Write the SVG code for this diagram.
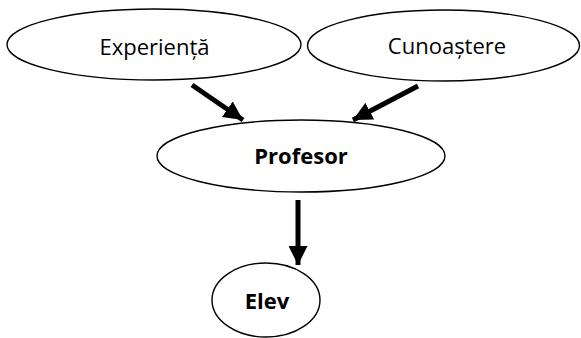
<svg xmlns="http://www.w3.org/2000/svg" width="581" height="338" viewBox="0 0 581 338">
  <style>
    .node { fill: #ffffff; stroke: #000000; stroke-width: 1.4; }
    .label { font-family: "Open Sans", "Liberation Sans", sans-serif; font-size: 22px; fill: #000000; text-anchor: middle; }
    .bold { font-weight: bold; }
    .edge { stroke: #000000; stroke-width: 5; fill: none; marker-end: url(#head); }
  </style>
  <defs>
    <marker id="head" markerUnits="userSpaceOnUse" markerWidth="19" markerHeight="19" viewBox="0 0 19 19" refX="19" refY="9.5" orient="auto">
      <polygon points="0,0 19,9.5 0,19" fill="#000000"/>
    </marker>
  </defs>
  <rect width="581" height="338" fill="#ffffff"/>
  <g id="connectors">
    <line class="edge" x1="192" y1="85" x2="243" y2="120"/>
    <line class="edge" x1="418" y1="86" x2="353" y2="120"/>
    <line class="edge" x1="298" y1="200" x2="298" y2="265"/>
  </g>
  <g id="experienta">
    <ellipse class="node" cx="154" cy="44.5" rx="147" ry="35.5"/>
    <text class="label" x="154.5" y="55">Experiență</text>
  </g>
  <g id="cunoastere">
    <ellipse class="node" cx="443.5" cy="45.5" rx="136" ry="35.5"/>
    <text class="label" x="447" y="54">Cunoaștere</text>
  </g>
  <g id="profesor">
    <ellipse class="node" cx="301" cy="156" rx="144" ry="36"/>
    <text class="label bold" x="301" y="164">Profesor</text>
  </g>
  <g id="elev">
    <ellipse class="node" cx="266" cy="300" rx="54" ry="37"/>
    <text class="label bold" x="267" y="309">Elev</text>
  </g>
</svg>
